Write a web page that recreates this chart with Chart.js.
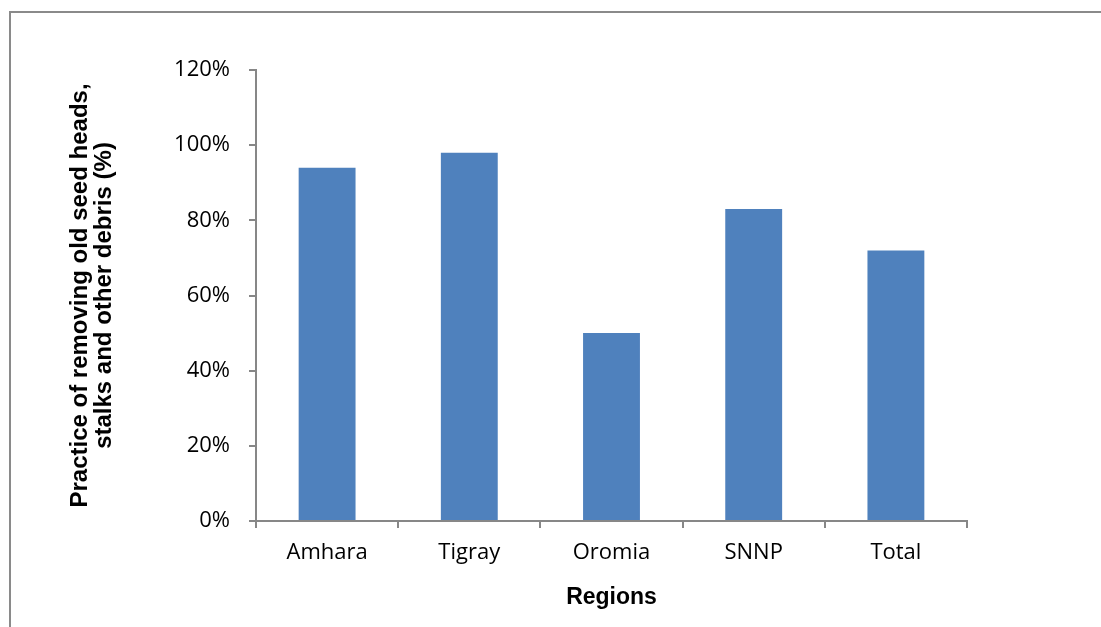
<!DOCTYPE html>
<html>
<head>
<meta charset="utf-8">
<script src="https://cdn.jsdelivr.net/npm/chart.js@4/dist/chart.umd.min.js"></script>
<style>
  html, body { margin: 0; padding: 0; background: #fff; overflow: hidden; }
  #wrap { position: relative; width: 1101px; height: 627px; }
  #frame { position: absolute; left: 9px; top: 11px; width: 2000px; height: 2000px;
           border: 2px solid #8a8a8a; box-sizing: border-box; }
  canvas { position: absolute; left: 0; top: 0; }
</style>
</head>
<body>
<div id="wrap">
  <div id="frame"></div>
  <canvas id="grafica" width="1101" height="627"></canvas>
</div>
<script>
// datos
const regiones = ["Amhara", "Tigray", "Oromia", "SNNP", "Total"];
const practica = [94, 98, 50, 83, 72];
const ticksY = [0, 20, 40, 60, 80, 100, 120];

const gris = "#878787";

const ctx = document.getElementById("grafica").getContext("2d");
new Chart(ctx, {
  type: "bar",
  data: {
    labels: regiones,
    datasets: [{
      data: practica,
      backgroundColor: "#4f81bd",
      barPercentage: 0.4,
      categoryPercentage: 1.0
    }]
  },
  options: {
    responsive: false,
    animation: false,
    layout: { padding: { left: 0, top: 70, right: 134, bottom: 0 } },
    plugins: { legend: { display: false }, tooltip: { enabled: false } },
    scales: {
      x: {
        grid: { display: true, drawOnChartArea: false, drawTicks: true, tickLength: 7, color: gris, lineWidth: 2, offset: true },
        border: { display: true, color: gris, width: 2 },
        ticks: { color: "#000", padding: 12, font: { family: "'Open Sans'", size: 22 } },
        title: { display: true, text: "Regions", color: "#000",
                 font: { family: "'Liberation Sans', Arial", size: 23, weight: "bold" },
                 padding: { top: 0, bottom: 16 } },
        afterFit: (s) => { s.height = 106; }
      },
      y: {
        min: 0, max: 120,
        afterBuildTicks: (s) => { s.ticks = ticksY.map(v => ({ value: v })); },
        grid: { display: true, drawOnChartArea: false, drawTicks: true, tickLength: 7, color: gris, lineWidth: 2 },
        border: { display: true, color: gris, width: 2 },
        ticks: { color: "#000", padding: 19, font: { family: "'Open Sans'", size: 22 },
                 callback: (v) => v + "%" },
        title: { display: true, color: "#000",
                 text: ["Practice of removing old seed heads,", "stalks and other debris (%)"],
                 font: { family: "'Liberation Sans', Arial", size: 24, weight: "bold", lineHeight: 1.0 },
                 padding: { top: 68, bottom: 0 } },
        afterFit: (s) => { s.width = 256; }
      }
    }
  }
});
</script>
</body>
</html>
